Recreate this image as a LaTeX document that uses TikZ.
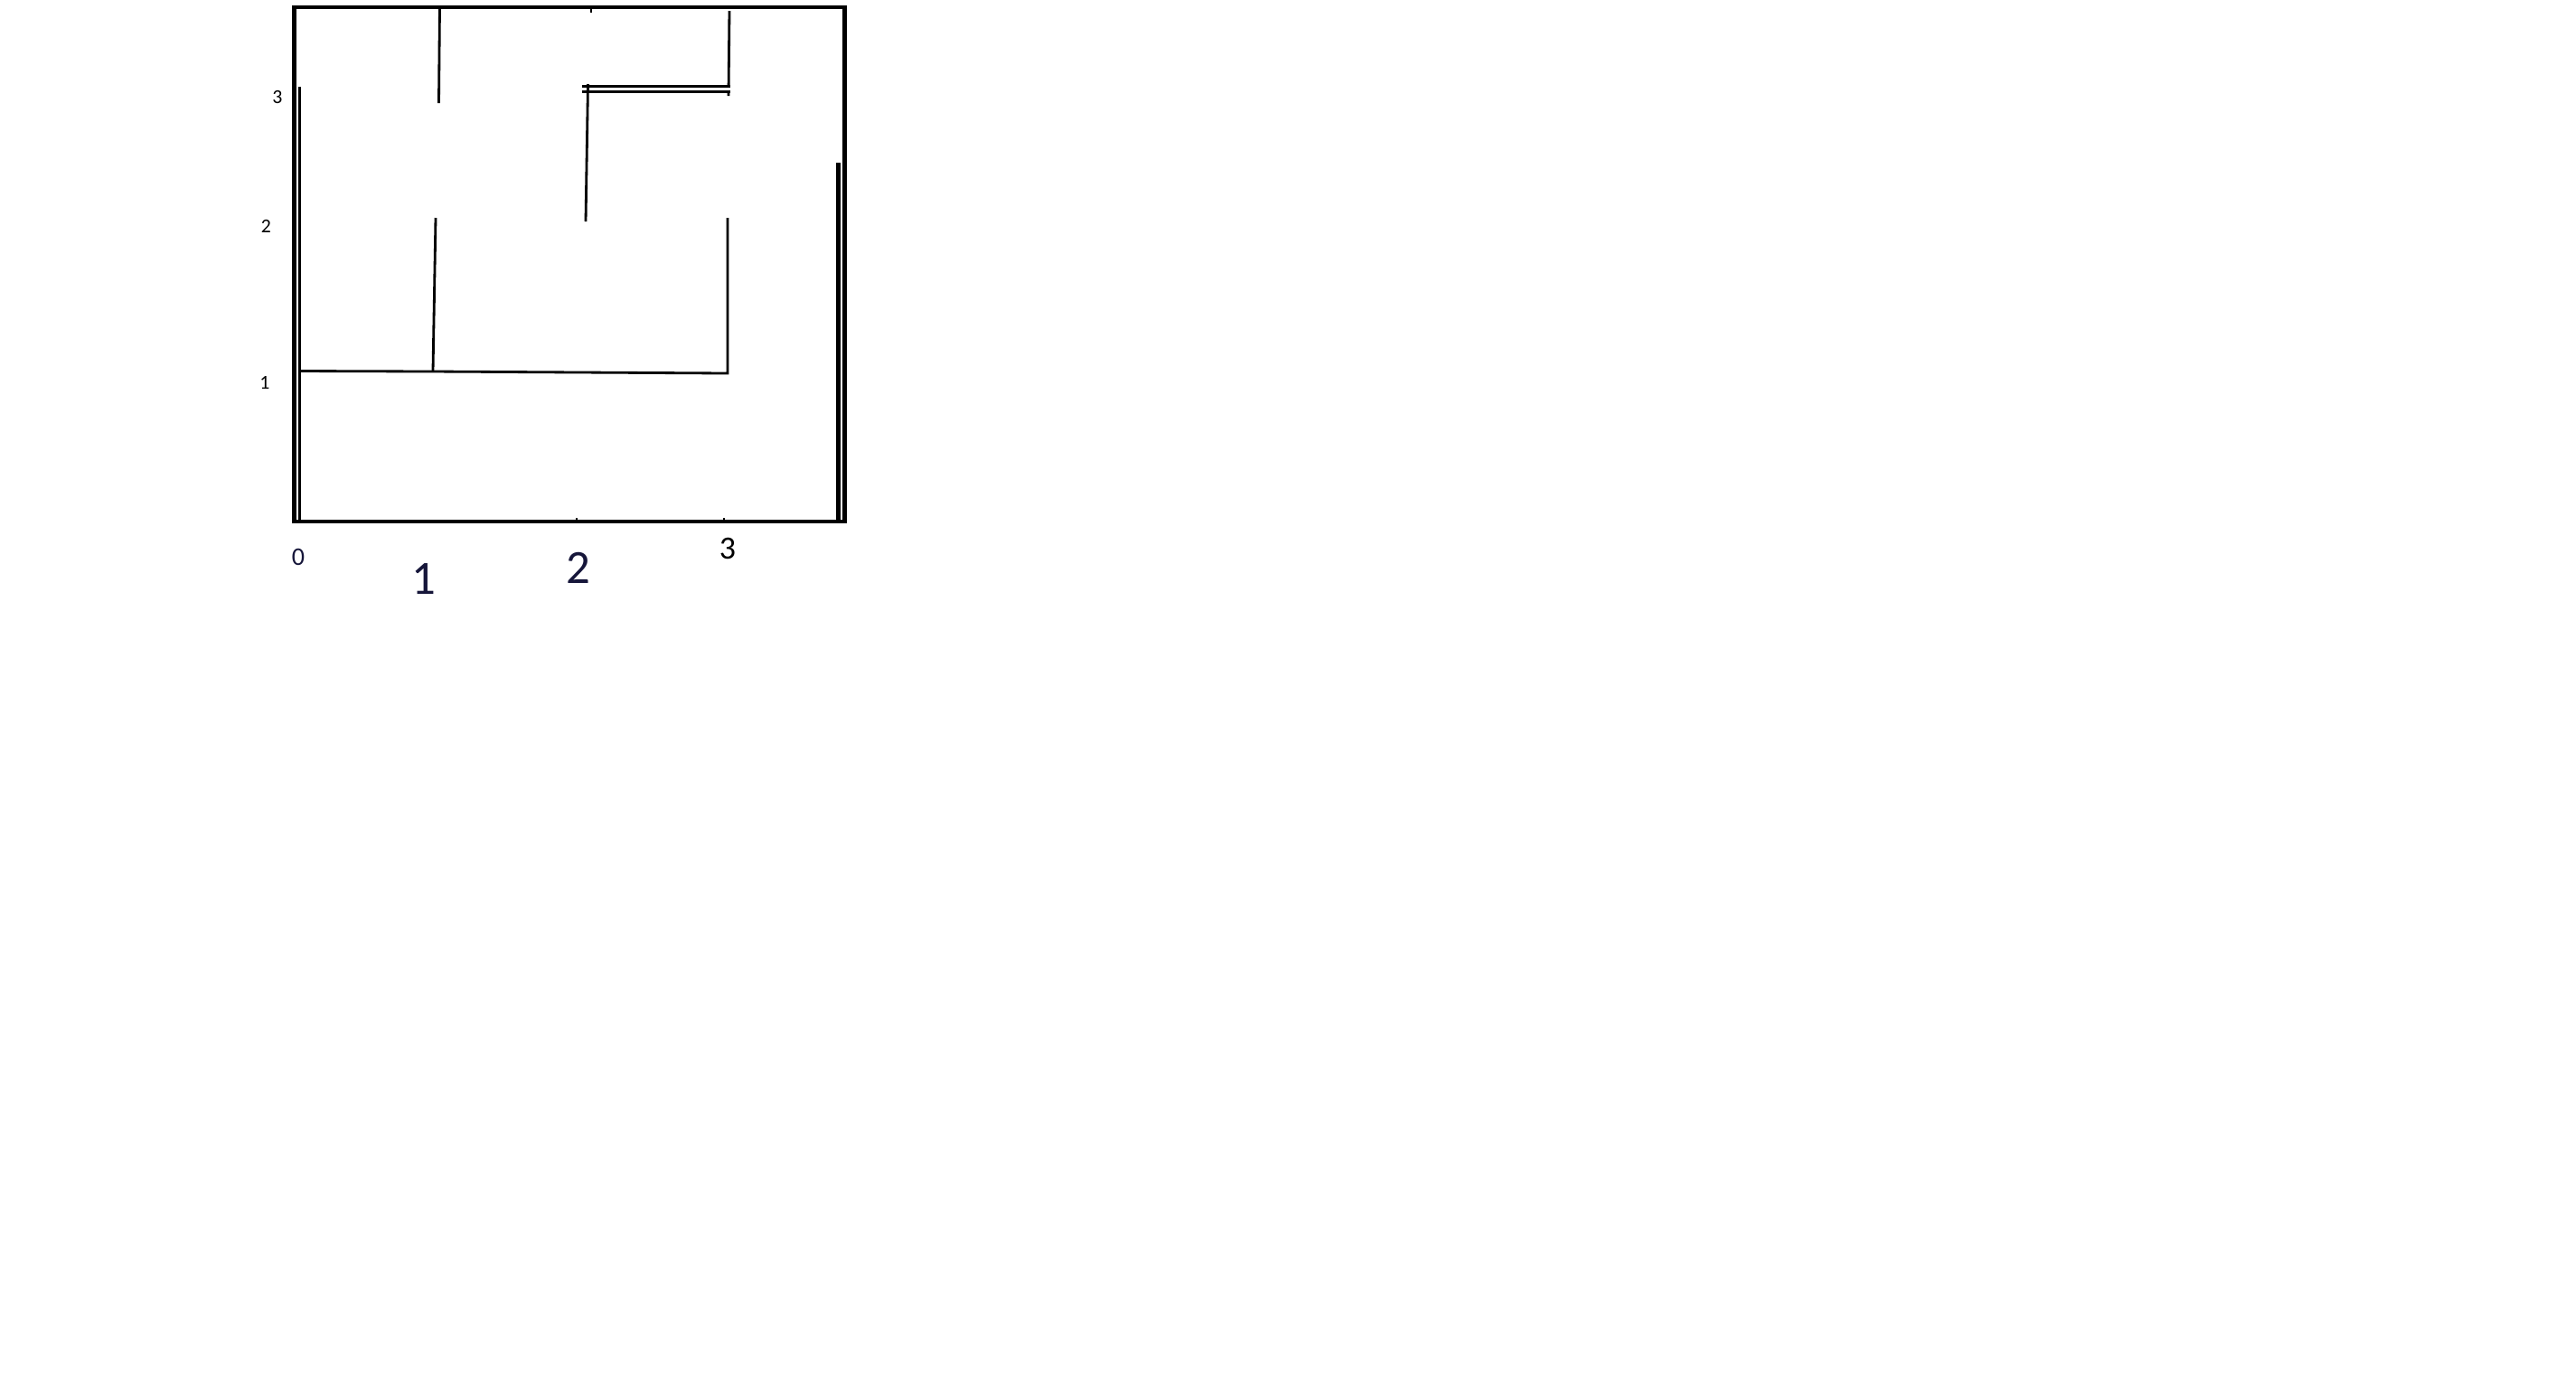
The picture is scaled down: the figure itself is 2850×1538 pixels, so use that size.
\documentclass[tikz,border=0pt]{standalone}
\usepackage{fontspec}
\setmainfont{Carlito}
\definecolor{inkblue}{RGB}{22,22,58}
\tikzset{
  wall/.style={line width=0.8pt},
  border/.style={line width=1.4pt},
  lbl/.style={inner sep=0pt}
}
\begin{document}
\begin{tikzpicture}[x=0.01cm,y=-0.01cm]
\useasboundingbox (0,0) rectangle (2850,1538);
% outer walls
\draw[border] (325.5,8) rectangle (934.5,577);
\draw[line width=1.0pt] (331.5,96) -- (331.5,577);
\draw[line width=1.25pt] (927.5,180) -- (927.5,577);
% inner walls
\draw[wall] (486.5,8) -- (485.5,114);
\draw[wall] (807,12) -- (806,106);
\draw[wall,double,double distance=0.7pt] (644,98.5) -- (808,98.5);
\draw[wall] (650.5,93) -- (648,245);
\draw[wall] (482,241) -- (479,411);
\draw[wall] (331,410.5) -- (479,411) -- (805,413) -- (805,241);
\foreach\x in{638,801}{\draw[wall](\x,573)--(\x,577);}
\draw[wall] (654,8) -- (654,14);
% labels
\node[lbl,font=\fontsize{6.2}{7}\selectfont] (y3) at (307,107.5) {3};
\node[lbl,font=\fontsize{6.2}{7}\selectfont] (y2) at (294.5,250.5) {2};
\node[lbl,font=\fontsize{6.2}{7}\selectfont] (y1) at (293,423) {1};
\node[lbl,font=\fontsize{8}{9}\selectfont,text=inkblue] (x0) at (330,616) {0};
\node[lbl,font=\fontsize{15}{17}\selectfont,text=inkblue] (x1) at (469,641) {1};
\node[lbl,font=\fontsize{15}{17}\selectfont,text=inkblue] (x2) at (640,628) {2};
\node[lbl,font=\fontsize{10.2}{12}\selectfont] (x3) at (805,607) {3};
\end{tikzpicture}
\end{document}
